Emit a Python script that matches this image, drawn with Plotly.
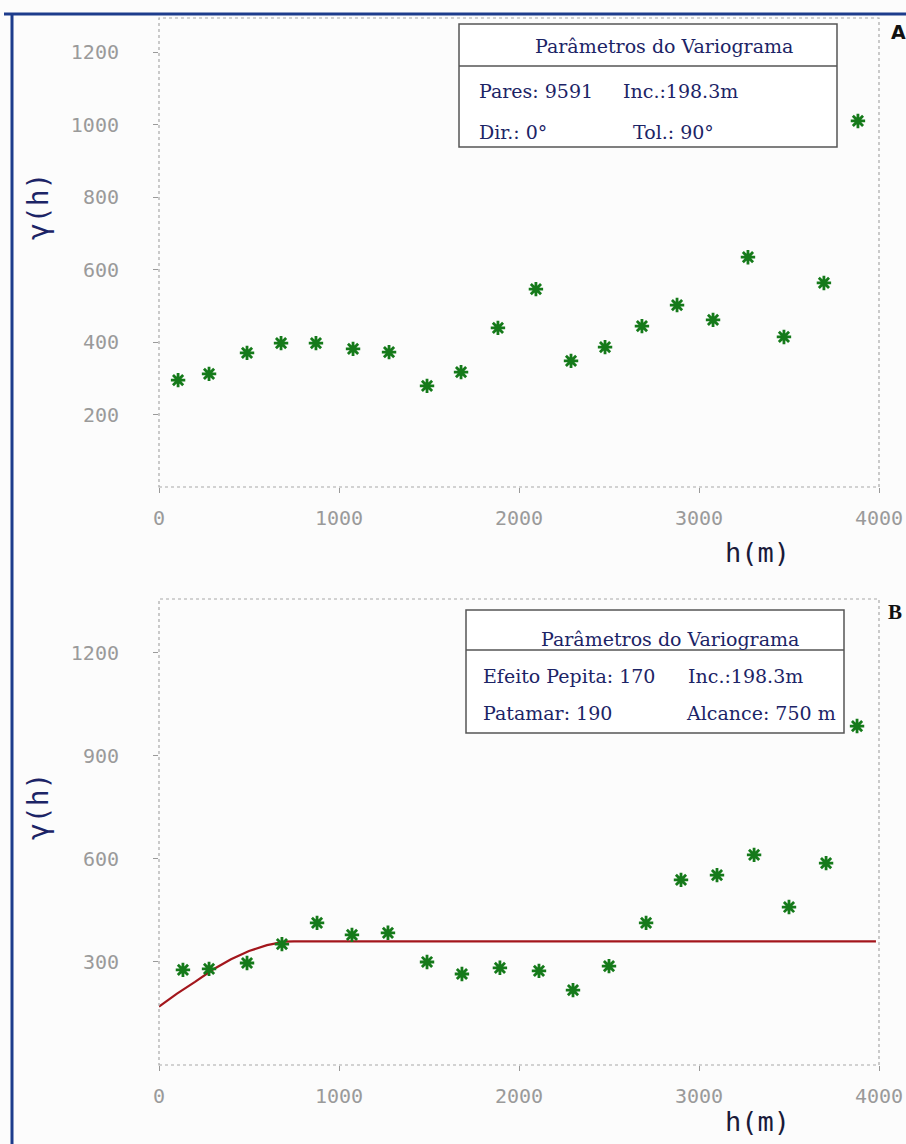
import plotly.graph_objects as go

# ---------------- data ----------------
lag_a = [106, 278, 489, 678, 872, 1078, 1278, 1489, 1678, 1883,
         2094, 2289, 2478, 2683, 2878, 3078, 3272, 3472, 3694, 3883]
gamma_a = [295, 312, 370, 397, 397, 381, 372, 279, 317, 439,
           546, 348, 386, 444, 502, 461, 634, 414, 563, 1010]

lag_b = [133, 278, 489, 683, 878, 1072, 1272, 1489, 1683, 1894,
         2111, 2300, 2500, 2706, 2900, 3100, 3306, 3500, 3706, 3878]
gamma_b = [277, 280, 297, 352, 414, 379, 385, 300, 265, 283,
           274, 218, 288, 414, 539, 553, 612, 460, 588, 987]

model_h = [0, 100, 200, 300, 400, 500, 600, 700, 750, 3983]
model_g = [170, 208, 242, 278, 308, 332, 349, 359, 360, 360]

x_ticks = [0, 1000, 2000, 3000, 4000]
y_ticks_a = [200, 400, 600, 800, 1000, 1200]
y_ticks_b = [300, 600, 900, 1200]

legend_title = "Parâmetros do Variograma"
legend_a = [["Pares: 9591", "Inc.:198.3m"], ["Dir.: 0°", "Tol.: 90°"]]
legend_b = [["Efeito Pepita: 170", "Inc.:198.3m"], ["Patamar: 190", "Alcance: 750 m"]]

# ---------------- layout helpers ----------------
W, H = 906, 1144
def px(x): return x / W
def py(y): return 1 - y / H

NAVY = "#1c2466"
GREEN = "#157a1a"
RED = "#a3161c"
GRAY = "#9a9a9a"
MONO = "DejaVu Sans Mono"
SERIF = "DejaVu Serif"

marker = dict(symbol="asterisk-open", size=12, color=GREEN,
              line=dict(color=GREEN, width=2.8))

fig = go.Figure()
fig.add_trace(go.Scatter(x=lag_a, y=gamma_a, mode="markers", marker=marker,
                         xaxis="x", yaxis="y", showlegend=False))
fig.add_trace(go.Scatter(x=model_h, y=model_g, mode="lines",
                         line=dict(color=RED, width=2.2),
                         xaxis="x2", yaxis="y2", showlegend=False))
fig.add_trace(go.Scatter(x=lag_b, y=gamma_b, mode="markers", marker=marker,
                         xaxis="x2", yaxis="y2", showlegend=False))

xdom = [px(159), px(879)]
ydomA = [py(487), py(18)]
ydomB = [py(1065), py(599)]

tickfont = dict(family=MONO, size=20, color=GRAY)

def xax(anchor):
    return dict(domain=xdom, range=[0, 4000], anchor=anchor,
                tickvals=x_ticks, ticktext=[str(v) for v in x_ticks],
                tickfont=tickfont, ticks="outside", ticklen=5, tickcolor=GRAY,
                showgrid=False, zeroline=False, showline=False,
                ticklabelstandoff=8, automargin=False)

def yax(anchor, dom, rng, tv):
    return dict(domain=dom, range=rng, anchor=anchor,
                tickvals=tv, ticktext=[str(v) for v in tv],
                tickfont=tickfont, ticks="outside", ticklen=5, tickcolor=GRAY,
                showgrid=False, zeroline=False, showline=False,
                ticklabelstandoff=30, automargin=False)

shapes = []
annotations = []

# dotted frames for the two plot areas
for top, bot in [(18, 487), (599, 1065)]:
    shapes.append(dict(type="rect", xref="paper", yref="paper",
                       x0=px(159), x1=px(879), y0=py(bot), y1=py(top),
                       line=dict(color="#a8a8a8", width=1.2, dash="dot")))

# blue outer border (top and left)
shapes.append(dict(type="line", xref="paper", yref="paper",
                   x0=px(4), x1=px(906), y0=py(14), y1=py(14),
                   line=dict(color="#1d3c8c", width=3)))
shapes.append(dict(type="line", xref="paper", yref="paper",
                   x0=px(12), x1=px(12), y0=py(13), y1=py(1144),
                   line=dict(color="#1d3c8c", width=3)))

def legend_box(x0, x1, y0, ysep, y1, title_x, title_y, rows, row_y, col_x):
    shapes.append(dict(type="rect", xref="paper", yref="paper",
                       x0=px(x0), x1=px(x1), y0=py(y1), y1=py(y0),
                       fillcolor="white",
                       line=dict(color="#555555", width=1.5)))
    shapes.append(dict(type="line", xref="paper", yref="paper",
                       x0=px(x0), x1=px(x1), y0=py(ysep), y1=py(ysep),
                       line=dict(color="#555555", width=1.5)))
    annotations.append(dict(text=legend_title, xref="paper", yref="paper",
                            x=px(title_x), y=py(title_y), showarrow=False,
                            xanchor="center", yanchor="middle",
                            font=dict(family=SERIF, size=19, color=NAVY)))
    for r, row in enumerate(rows):
        for c, txt in enumerate(row):
            annotations.append(dict(text=txt, xref="paper", yref="paper",
                                    x=px(col_x[r][c]), y=py(row_y[r]),
                                    showarrow=False, xanchor="left",
                                    yanchor="middle",
                                    font=dict(family=SERIF, size=19, color=NAVY)))

legend_box(459, 837, 24, 66, 147, 664, 46, legend_a, [91, 132],
           [[477, 621], [477, 631]])
legend_box(466, 844, 610, 650, 733, 670, 639, legend_b, [676, 713],
           [[481, 686], [481, 684]])

# axis titles
for yy in [207, 807]:
    annotations.append(dict(text="γ(h)", xref="paper", yref="paper",
                            x=px(38), y=py(yy), showarrow=False, textangle=-90,
                            xanchor="center", yanchor="middle",
                            font=dict(family=MONO, size=28, color=NAVY)))
for yy in [553, 1121]:
    annotations.append(dict(text="h(m)", xref="paper", yref="paper",
                            x=px(757), y=py(yy), showarrow=False,
                            xanchor="center", yanchor="middle",
                            font=dict(family=MONO, size=27, color="#1a1a3a")))

# panel letters
annotations.append(dict(text="<b>A</b>", xref="paper", yref="paper",
                        x=px(898), y=py(32), showarrow=False,
                        xanchor="center", yanchor="middle",
                        font=dict(family="DejaVu Sans", size=19, color="#111111")))
annotations.append(dict(text="<b>B</b>", xref="paper", yref="paper",
                        x=px(895), y=py(612), showarrow=False,
                        xanchor="center", yanchor="middle",
                        font=dict(family="Liberation Serif", size=21, color="#111111")))

fig.update_layout(
    width=W, height=H, margin=dict(l=0, r=0, t=0, b=0, autoexpand=False),
    paper_bgcolor="#fcfcfc", plot_bgcolor="#fcfcfc",
    xaxis=xax("y"), yaxis=yax("x", ydomA, [0, 1294], y_ticks_a),
    xaxis2=xax("y2"), yaxis2=yax("x2", ydomB, [0, 1357], y_ticks_b),
    shapes=shapes, annotations=annotations,
)

fig.write_html("out.html")
